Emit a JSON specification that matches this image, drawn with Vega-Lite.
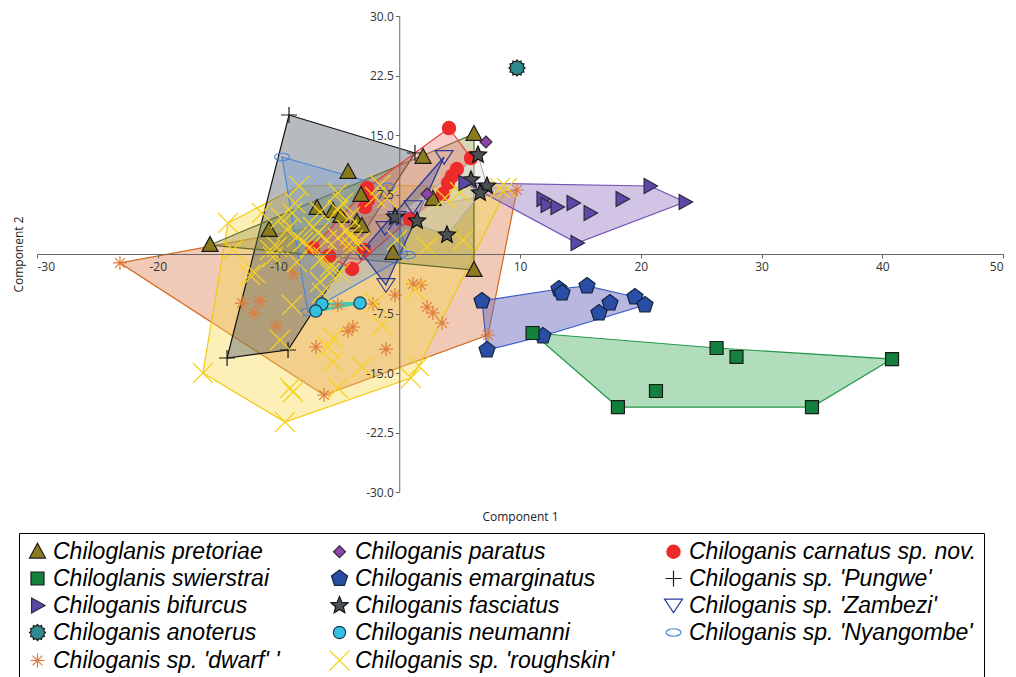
{
  "$schema": "https://vega.github.io/schema/vega-lite/v6.json",
  "width": 966,
  "height": 476,
  "autosize": {"type": "none"},
  "padding": {"left": 37, "top": 16, "right": 13, "bottom": 185},
  "background": "white",
  "config": {"view": {"stroke": null}},
  "datasets": {
    "hulls": [
      {"hull": "dwarf", "k": 1, "x": -23.13, "y": -1.13},
      {"hull": "dwarf", "k": 2, "x": 9.75, "y": 8.07},
      {"hull": "dwarf", "k": 3, "x": 7.35, "y": -10.21},
      {"hull": "dwarf", "k": 4, "x": -6.23, "y": -17.77},
      {"hull": "roughskin", "k": 1, "x": -14.18, "y": 3.91},
      {"hull": "roughskin", "k": 2, "x": -8.30, "y": 8.57},
      {"hull": "roughskin", "k": 3, "x": -1.59, "y": 8.70},
      {"hull": "roughskin", "k": 4, "x": 8.92, "y": 8.32},
      {"hull": "roughskin", "k": 5, "x": 1.63, "y": -14.12},
      {"hull": "roughskin", "k": 6, "x": 0.97, "y": -15.63},
      {"hull": "roughskin", "k": 7, "x": -9.46, "y": -21.18},
      {"hull": "roughskin", "k": 8, "x": -16.26, "y": -15.00},
      {"hull": "pungwe", "k": 1, "x": -9.13, "y": 17.52},
      {"hull": "pungwe", "k": 2, "x": 1.30, "y": 12.73},
      {"hull": "pungwe", "k": 3, "x": -9.21, "y": -12.10},
      {"hull": "pungwe", "k": 4, "x": -14.26, "y": -13.11},
      {"hull": "pretoriae", "k": 1, "x": -15.67, "y": 1.13},
      {"hull": "pretoriae", "k": 2, "x": 6.19, "y": 15.13},
      {"hull": "pretoriae", "k": 3, "x": 6.19, "y": -2.02},
      {"hull": "nyangombe", "k": 1, "x": -9.71, "y": 12.23},
      {"hull": "nyangombe", "k": 2, "x": -1.01, "y": 8.45},
      {"hull": "nyangombe", "k": 3, "x": 0.72, "y": -0.13},
      {"hull": "nyangombe", "k": 4, "x": -7.56, "y": -7.31},
      {"hull": "carnatus", "k": 1, "x": 4.12, "y": 15.88},
      {"hull": "carnatus", "k": 2, "x": 5.94, "y": 12.10},
      {"hull": "carnatus", "k": 3, "x": 3.62, "y": 7.56},
      {"hull": "carnatus", "k": 4, "x": 0.89, "y": 4.41},
      {"hull": "carnatus", "k": 5, "x": -3.91, "y": -1.89},
      {"hull": "carnatus", "k": 6, "x": -7.15, "y": 0.76},
      {"hull": "carnatus", "k": 7, "x": -2.67, "y": 8.32},
      {"hull": "zambezi", "k": 1, "x": 3.71, "y": 12.23},
      {"hull": "zambezi", "k": 2, "x": -1.10, "y": -3.91},
      {"hull": "zambezi", "k": 3, "x": -3.17, "y": 0.25},
      {"hull": "fasciatus", "k": 1, "x": 6.52, "y": 12.48},
      {"hull": "fasciatus", "k": 2, "x": 7.27, "y": 8.57},
      {"hull": "fasciatus", "k": 3, "x": 3.95, "y": 2.40},
      {"hull": "fasciatus", "k": 4, "x": -0.35, "y": 4.66},
      {"hull": "bifurcus", "k": 1, "x": 5.44, "y": 8.95},
      {"hull": "bifurcus", "k": 2, "x": 20.77, "y": 8.57},
      {"hull": "bifurcus", "k": 3, "x": 23.67, "y": 6.55},
      {"hull": "bifurcus", "k": 4, "x": 14.72, "y": 1.39},
      {"hull": "emarginatus", "k": 1, "x": 6.85, "y": -5.92},
      {"hull": "emarginatus", "k": 2, "x": 13.23, "y": -4.41},
      {"hull": "emarginatus", "k": 3, "x": 15.55, "y": -4.03},
      {"hull": "emarginatus", "k": 4, "x": 19.52, "y": -5.42},
      {"hull": "emarginatus", "k": 5, "x": 20.35, "y": -6.43},
      {"hull": "emarginatus", "k": 6, "x": 11.90, "y": -10.34},
      {"hull": "emarginatus", "k": 7, "x": 7.27, "y": -12.10},
      {"hull": "swierstrai", "k": 1, "x": 11.04, "y": -9.96},
      {"hull": "swierstrai", "k": 2, "x": 26.28, "y": -11.85},
      {"hull": "swierstrai", "k": 3, "x": 40.81, "y": -13.24},
      {"hull": "swierstrai", "k": 4, "x": 34.18, "y": -19.29},
      {"hull": "swierstrai", "k": 5, "x": 18.11, "y": -19.29},
      {"hull": "neumanni", "k": 1, "x": -6.91, "y": -7.19},
      {"hull": "neumanni", "k": 2, "x": -6.40, "y": -6.30},
      {"hull": "neumanni", "k": 3, "x": -3.25, "y": -6.18}
    ],
    "points": [
      {"species": "Chiloganis sp. 'dwarf' '", "x": -23.13, "y": -1.13},
      {"species": "Chiloganis sp. 'dwarf' '", "x": -13.02, "y": -6.18},
      {"species": "Chiloganis sp. 'dwarf' '", "x": -11.53, "y": -5.92},
      {"species": "Chiloganis sp. 'dwarf' '", "x": -12.03, "y": -7.44},
      {"species": "Chiloganis sp. 'dwarf' '", "x": -10.21, "y": -9.08},
      {"species": "Chiloganis sp. 'dwarf' '", "x": -8.80, "y": -2.52},
      {"species": "Chiloganis sp. 'dwarf' '", "x": -6.90, "y": -11.72},
      {"species": "Chiloganis sp. 'dwarf' '", "x": -6.23, "y": -17.77},
      {"species": "Chiloganis sp. 'dwarf' '", "x": -5.09, "y": -6.43},
      {"species": "Chiloganis sp. 'dwarf' '", "x": -3.84, "y": -9.20},
      {"species": "Chiloganis sp. 'dwarf' '", "x": -4.26, "y": -9.71},
      {"species": "Chiloganis sp. 'dwarf' '", "x": -1.10, "y": -11.98},
      {"species": "Chiloganis sp. 'dwarf' '", "x": -2.17, "y": -6.30},
      {"species": "Chiloganis sp. 'dwarf' '", "x": -0.35, "y": -5.17},
      {"species": "Chiloganis sp. 'dwarf' '", "x": 1.14, "y": -3.78},
      {"species": "Chiloganis sp. 'dwarf' '", "x": 1.80, "y": -3.91},
      {"species": "Chiloganis sp. 'dwarf' '", "x": 2.30, "y": -6.68},
      {"species": "Chiloganis sp. 'dwarf' '", "x": 2.79, "y": -7.44},
      {"species": "Chiloganis sp. 'dwarf' '", "x": 3.54, "y": -8.70},
      {"species": "Chiloganis sp. 'dwarf' '", "x": 7.35, "y": -10.21},
      {"species": "Chiloganis sp. 'dwarf' '", "x": 9.75, "y": 8.07},
      {"species": "Chiloganis sp. 'dwarf' '", "x": -4.41, "y": 0.88},
      {"species": "Chiloganis sp. 'Pungwe'", "x": -9.13, "y": 17.52},
      {"species": "Chiloganis sp. 'Pungwe'", "x": 1.30, "y": 12.73},
      {"species": "Chiloganis sp. 'Pungwe'", "x": -14.26, "y": -13.11},
      {"species": "Chiloganis sp. 'Pungwe'", "x": -9.21, "y": -12.10},
      {"species": "Chiloganis sp. 'Nyangombe'", "x": -9.71, "y": 12.23},
      {"species": "Chiloganis sp. 'Nyangombe'", "x": -1.01, "y": 8.45},
      {"species": "Chiloganis sp. 'Nyangombe'", "x": 0.72, "y": -0.13},
      {"species": "Chiloganis sp. 'Nyangombe'", "x": -7.56, "y": -7.31},
      {"species": "Chiloganis carnatus sp. nov.", "x": 4.12, "y": 15.88},
      {"species": "Chiloganis carnatus sp. nov.", "x": 5.94, "y": 12.10},
      {"species": "Chiloganis carnatus sp. nov.", "x": 4.77, "y": 10.71},
      {"species": "Chiloganis carnatus sp. nov.", "x": 4.36, "y": 9.83},
      {"species": "Chiloganis carnatus sp. nov.", "x": 4.04, "y": 8.95},
      {"species": "Chiloganis carnatus sp. nov.", "x": 3.62, "y": 7.56},
      {"species": "Chiloganis carnatus sp. nov.", "x": 0.89, "y": 4.41},
      {"species": "Chiloganis carnatus sp. nov.", "x": -2.67, "y": 8.32},
      {"species": "Chiloganis carnatus sp. nov.", "x": -2.59, "y": 6.81},
      {"species": "Chiloganis carnatus sp. nov.", "x": -2.84, "y": 5.92},
      {"species": "Chiloganis carnatus sp. nov.", "x": -7.15, "y": 0.76},
      {"species": "Chiloganis carnatus sp. nov.", "x": -5.82, "y": -0.25},
      {"species": "Chiloganis carnatus sp. nov.", "x": -3.91, "y": -1.89},
      {"species": "Chiloganis carnatus sp. nov.", "x": -2.92, "y": 0.50},
      {"species": "Chiloglanis pretoriae", "x": -15.67, "y": 1.13},
      {"species": "Chiloglanis pretoriae", "x": -10.78, "y": 3.03},
      {"species": "Chiloglanis pretoriae", "x": -6.81, "y": 5.80},
      {"species": "Chiloglanis pretoriae", "x": -5.49, "y": 5.42},
      {"species": "Chiloglanis pretoriae", "x": -4.83, "y": 4.79},
      {"species": "Chiloglanis pretoriae", "x": -3.50, "y": 4.03},
      {"species": "Chiloglanis pretoriae", "x": -3.09, "y": 3.53},
      {"species": "Chiloglanis pretoriae", "x": -4.24, "y": 10.34},
      {"species": "Chiloglanis pretoriae", "x": -3.17, "y": 7.44},
      {"species": "Chiloglanis pretoriae", "x": 1.97, "y": 12.23},
      {"species": "Chiloglanis pretoriae", "x": 6.19, "y": 15.13},
      {"species": "Chiloglanis pretoriae", "x": 2.79, "y": 6.93},
      {"species": "Chiloglanis pretoriae", "x": -0.52, "y": 0.13},
      {"species": "Chiloglanis pretoriae", "x": 6.19, "y": -2.02},
      {"species": "Chiloganis sp. 'Zambezi'", "x": 3.71, "y": 12.23},
      {"species": "Chiloganis sp. 'Zambezi'", "x": 1.14, "y": 5.92},
      {"species": "Chiloganis sp. 'Zambezi'", "x": -0.19, "y": 4.54},
      {"species": "Chiloganis sp. 'Zambezi'", "x": -1.18, "y": 3.28},
      {"species": "Chiloganis sp. 'Zambezi'", "x": -3.17, "y": 0.25},
      {"species": "Chiloganis sp. 'Zambezi'", "x": -1.10, "y": -3.91},
      {"species": "Chiloganis sp. 'roughskin'", "x": -14.18, "y": 3.91},
      {"species": "Chiloganis sp. 'roughskin'", "x": -13.78, "y": 0.50},
      {"species": "Chiloganis sp. 'roughskin'", "x": -11.95, "y": -2.40},
      {"species": "Chiloganis sp. 'roughskin'", "x": -12.36, "y": -2.65},
      {"species": "Chiloganis sp. 'roughskin'", "x": -10.70, "y": 0.50},
      {"species": "Chiloganis sp. 'roughskin'", "x": -10.13, "y": 0.88},
      {"species": "Chiloganis sp. 'roughskin'", "x": -10.46, "y": -0.38},
      {"species": "Chiloganis sp. 'roughskin'", "x": -9.79, "y": 4.54},
      {"species": "Chiloganis sp. 'roughskin'", "x": -9.30, "y": 3.03},
      {"species": "Chiloganis sp. 'roughskin'", "x": -8.88, "y": 5.17},
      {"species": "Chiloganis sp. 'roughskin'", "x": -8.63, "y": 6.43},
      {"species": "Chiloganis sp. 'roughskin'", "x": -8.30, "y": 8.57},
      {"species": "Chiloganis sp. 'roughskin'", "x": -8.47, "y": 2.14},
      {"species": "Chiloganis sp. 'roughskin'", "x": -7.97, "y": 1.51},
      {"species": "Chiloganis sp. 'roughskin'", "x": -7.39, "y": 0.88},
      {"species": "Chiloganis sp. 'roughskin'", "x": -7.14, "y": 3.40},
      {"species": "Chiloganis sp. 'roughskin'", "x": -6.56, "y": 5.29},
      {"species": "Chiloganis sp. 'roughskin'", "x": -6.73, "y": 2.65},
      {"species": "Chiloganis sp. 'roughskin'", "x": -5.99, "y": 1.76},
      {"species": "Chiloganis sp. 'roughskin'", "x": -11.37, "y": 5.17},
      {"species": "Chiloganis sp. 'roughskin'", "x": -5.08, "y": 7.69},
      {"species": "Chiloganis sp. 'roughskin'", "x": -4.66, "y": 6.43},
      {"species": "Chiloganis sp. 'roughskin'", "x": -5.08, "y": 5.55},
      {"species": "Chiloganis sp. 'roughskin'", "x": -4.08, "y": 4.66},
      {"species": "Chiloganis sp. 'roughskin'", "x": -4.33, "y": 3.03},
      {"species": "Chiloganis sp. 'roughskin'", "x": -5.08, "y": 2.02},
      {"species": "Chiloganis sp. 'roughskin'", "x": -3.91, "y": 0.88},
      {"species": "Chiloganis sp. 'roughskin'", "x": -4.08, "y": 2.40},
      {"species": "Chiloganis sp. 'roughskin'", "x": -3.25, "y": 1.51},
      {"species": "Chiloganis sp. 'roughskin'", "x": -8.47, "y": -1.01},
      {"species": "Chiloganis sp. 'roughskin'", "x": -6.31, "y": -0.38},
      {"species": "Chiloganis sp. 'roughskin'", "x": -5.74, "y": -1.64},
      {"species": "Chiloganis sp. 'roughskin'", "x": -6.56, "y": -0.76},
      {"species": "Chiloganis sp. 'roughskin'", "x": -4.91, "y": -2.40},
      {"species": "Chiloganis sp. 'roughskin'", "x": -1.59, "y": 8.70},
      {"species": "Chiloganis sp. 'roughskin'", "x": -1.01, "y": 7.06},
      {"species": "Chiloganis sp. 'roughskin'", "x": -2.01, "y": 7.19},
      {"species": "Chiloganis sp. 'roughskin'", "x": -3.83, "y": 1.76},
      {"species": "Chiloganis sp. 'roughskin'", "x": -0.19, "y": 1.76},
      {"species": "Chiloganis sp. 'roughskin'", "x": 2.30, "y": 0.88},
      {"species": "Chiloganis sp. 'roughskin'", "x": 5.28, "y": 1.76},
      {"species": "Chiloganis sp. 'roughskin'", "x": 3.79, "y": 7.06},
      {"species": "Chiloganis sp. 'roughskin'", "x": 5.03, "y": 7.82},
      {"species": "Chiloganis sp. 'roughskin'", "x": 8.34, "y": 8.32},
      {"species": "Chiloganis sp. 'roughskin'", "x": 8.92, "y": 8.32},
      {"species": "Chiloganis sp. 'roughskin'", "x": -8.88, "y": -6.43},
      {"species": "Chiloganis sp. 'roughskin'", "x": -9.87, "y": -10.84},
      {"species": "Chiloganis sp. 'roughskin'", "x": -6.56, "y": -3.53},
      {"species": "Chiloganis sp. 'roughskin'", "x": -6.40, "y": -4.92},
      {"species": "Chiloganis sp. 'roughskin'", "x": -5.74, "y": -2.40},
      {"species": "Chiloganis sp. 'roughskin'", "x": -5.49, "y": -10.59},
      {"species": "Chiloganis sp. 'roughskin'", "x": -5.90, "y": -11.72},
      {"species": "Chiloganis sp. 'roughskin'", "x": -5.49, "y": -13.61},
      {"species": "Chiloganis sp. 'roughskin'", "x": -3.09, "y": -14.24},
      {"species": "Chiloganis sp. 'roughskin'", "x": -2.01, "y": -6.18},
      {"species": "Chiloganis sp. 'roughskin'", "x": -1.43, "y": -8.95},
      {"species": "Chiloganis sp. 'roughskin'", "x": 1.30, "y": -4.54},
      {"species": "Chiloganis sp. 'roughskin'", "x": 0.97, "y": -15.63},
      {"species": "Chiloganis sp. 'roughskin'", "x": 1.63, "y": -14.12},
      {"species": "Chiloganis sp. 'roughskin'", "x": -5.08, "y": -16.89},
      {"species": "Chiloganis sp. 'roughskin'", "x": -8.80, "y": -17.40},
      {"species": "Chiloganis sp. 'roughskin'", "x": -9.05, "y": -16.89},
      {"species": "Chiloganis sp. 'roughskin'", "x": -9.46, "y": -21.18},
      {"species": "Chiloganis sp. 'roughskin'", "x": -16.26, "y": -15.00},
      {"species": "Chiloganis fasciatus", "x": 6.52, "y": 12.48},
      {"species": "Chiloganis fasciatus", "x": 5.94, "y": 9.33},
      {"species": "Chiloganis fasciatus", "x": 7.27, "y": 8.57},
      {"species": "Chiloganis fasciatus", "x": 6.69, "y": 7.69},
      {"species": "Chiloganis fasciatus", "x": 3.95, "y": 2.40},
      {"species": "Chiloganis fasciatus", "x": 1.47, "y": 4.16},
      {"species": "Chiloganis fasciatus", "x": -0.35, "y": 4.66},
      {"species": "Chiloganis paratus", "x": 7.18, "y": 14.12},
      {"species": "Chiloganis paratus", "x": 2.30, "y": 7.56},
      {"species": "Chiloganis bifurcus", "x": 5.44, "y": 8.95},
      {"species": "Chiloganis bifurcus", "x": 11.90, "y": 6.93},
      {"species": "Chiloganis bifurcus", "x": 12.24, "y": 6.18},
      {"species": "Chiloganis bifurcus", "x": 13.06, "y": 5.92},
      {"species": "Chiloganis bifurcus", "x": 14.39, "y": 6.43},
      {"species": "Chiloganis bifurcus", "x": 15.80, "y": 5.17},
      {"species": "Chiloganis bifurcus", "x": 18.45, "y": 6.93},
      {"species": "Chiloganis bifurcus", "x": 20.77, "y": 8.57},
      {"species": "Chiloganis bifurcus", "x": 23.67, "y": 6.55},
      {"species": "Chiloganis bifurcus", "x": 14.72, "y": 1.39},
      {"species": "Chiloganis emarginatus", "x": 6.85, "y": -5.92},
      {"species": "Chiloganis emarginatus", "x": 7.27, "y": -12.10},
      {"species": "Chiloganis emarginatus", "x": 11.90, "y": -10.34},
      {"species": "Chiloganis emarginatus", "x": 13.23, "y": -4.41},
      {"species": "Chiloganis emarginatus", "x": 13.48, "y": -4.92},
      {"species": "Chiloganis emarginatus", "x": 15.55, "y": -4.03},
      {"species": "Chiloganis emarginatus", "x": 17.45, "y": -6.18},
      {"species": "Chiloganis emarginatus", "x": 16.54, "y": -7.44},
      {"species": "Chiloganis emarginatus", "x": 19.52, "y": -5.42},
      {"species": "Chiloganis emarginatus", "x": 20.35, "y": -6.43},
      {"species": "Chiloglanis swierstrai", "x": 11.04, "y": -9.96},
      {"species": "Chiloglanis swierstrai", "x": 26.28, "y": -11.85},
      {"species": "Chiloglanis swierstrai", "x": 27.93, "y": -12.98},
      {"species": "Chiloglanis swierstrai", "x": 21.26, "y": -17.27},
      {"species": "Chiloglanis swierstrai", "x": 18.11, "y": -19.29},
      {"species": "Chiloglanis swierstrai", "x": 34.18, "y": -19.29},
      {"species": "Chiloglanis swierstrai", "x": 40.81, "y": -13.24},
      {"species": "Chiloganis neumanni", "x": -6.40, "y": -6.30},
      {"species": "Chiloganis neumanni", "x": -6.91, "y": -7.19},
      {"species": "Chiloganis neumanni", "x": -3.25, "y": -6.18},
      {"species": "Chiloganis anoterus", "x": 9.75, "y": 23.45}
    ]
  },
  "encoding": {
    "x": {
      "field": "x", "type": "quantitative",
      "scale": {"domain": [-30, 50], "nice": false, "zero": false},
      "axis": {
        "values": [-30, -20, -10, 0, 10, 20, 30, 40, 50],
        "labelExpr": "datum.value == 0 ? '' : replace(datum.label, '\u2212', '-')",
        "format": "d",
        "offset": -238,
        "grid": false,
        "title": "Component 1",
        "titleX": 483, "titleY": 262, "titleBaseline": "middle",
        "titleFont": "Open Sans", "titleFontSize": 12, "titleFontWeight": "normal", "titleColor": "#222",
        "labelFont": "Open Sans", "labelFontSize": 12, "labelColor": "#333", "labelPadding": 3,
        "tickSize": 4, "tickColor": "#666", "domainColor": "#666", "zindex": 1
      }
    },
    "y": {
      "field": "y", "type": "quantitative",
      "scale": {"domain": [-30, 30], "nice": false, "zero": false},
      "axis": {
        "values": [-30, -22.5, -15, -7.5, 0, 7.5, 15, 22.5, 30],
        "format": ".1f",
        "labelExpr": "datum.value == 0 ? '' : replace(datum.label, '\u2212', '-')",
        "offset": -362.25,
        "grid": false,
        "title": "Component 2",
        "titleX": -381, "titleY": 238, "titleAngle": -90, "titleBaseline": "middle",
        "titleFont": "Open Sans", "titleFontSize": 12, "titleFontWeight": "normal", "titleColor": "#222",
        "labelFont": "Open Sans", "labelFontSize": 12, "labelColor": "#333", "labelPadding": 2,
        "tickSize": 4, "tickColor": "#666", "domainColor": "#666", "zindex": 1
      }
    }
  },
  "layer": [
    {"data": {"name": "hulls"}, "transform": [{"filter": "datum.hull == 'dwarf'"}],
     "mark": {"type": "line", "interpolate": "linear-closed", "fill": "#E08A60", "fillOpacity": 0.45, "stroke": "#D2691E", "strokeWidth": 1.2},
     "encoding": {"order": {"field": "k"}}},
    {"data": {"name": "hulls"}, "transform": [{"filter": "datum.hull == 'roughskin'"}],
     "mark": {"type": "line", "interpolate": "linear-closed", "fill": "#F7D84A", "fillOpacity": 0.4, "stroke": "#F2C80F", "strokeWidth": 1.2},
     "encoding": {"order": {"field": "k"}}},
    {"data": {"name": "hulls"}, "transform": [{"filter": "datum.hull == 'pungwe'"}],
     "mark": {"type": "line", "interpolate": "linear-closed", "fill": "#4A5560", "fillOpacity": 0.4, "stroke": "#111111", "strokeWidth": 1.2},
     "encoding": {"order": {"field": "k"}}},
    {"data": {"name": "hulls"}, "transform": [{"filter": "datum.hull == 'pretoriae'"}],
     "mark": {"type": "line", "interpolate": "linear-closed", "fill": "#8B8B3A", "fillOpacity": 0.35, "stroke": "#5F6B2A", "strokeWidth": 1.2},
     "encoding": {"order": {"field": "k"}}},
    {"data": {"name": "hulls"}, "transform": [{"filter": "datum.hull == 'nyangombe'"}],
     "mark": {"type": "line", "interpolate": "linear-closed", "fill": "#6B9BE0", "fillOpacity": 0.3, "stroke": "#4F86D6", "strokeWidth": 1.2},
     "encoding": {"order": {"field": "k"}}},
    {"data": {"name": "hulls"}, "transform": [{"filter": "datum.hull == 'carnatus'"}],
     "mark": {"type": "line", "interpolate": "linear-closed", "fill": "#F07070", "fillOpacity": 0.35, "stroke": "#E83A3A", "strokeWidth": 1.2},
     "encoding": {"order": {"field": "k"}}},
    {"data": {"name": "hulls"}, "transform": [{"filter": "datum.hull == 'zambezi'"}],
     "mark": {"type": "line", "interpolate": "linear-closed", "fill": "#4A5AA8", "fillOpacity": 0.35, "stroke": "#2B3A96", "strokeWidth": 1.3},
     "encoding": {"order": {"field": "k"}}},
    {"data": {"name": "hulls"}, "transform": [{"filter": "datum.hull == 'fasciatus'"}],
     "mark": {"type": "line", "interpolate": "linear-closed", "fill": "#E0E0E0", "fillOpacity": 0.4, "stroke": "#A8A8A8", "strokeWidth": 1},
     "encoding": {"order": {"field": "k"}}},
    {"data": {"name": "hulls"}, "transform": [{"filter": "datum.hull == 'bifurcus'"}],
     "mark": {"type": "line", "interpolate": "linear-closed", "fill": "#9B7CC4", "fillOpacity": 0.45, "stroke": "#7552B5", "strokeWidth": 1.2},
     "encoding": {"order": {"field": "k"}}},
    {"data": {"name": "hulls"}, "transform": [{"filter": "datum.hull == 'emarginatus'"}],
     "mark": {"type": "line", "interpolate": "linear-closed", "fill": "#7070C0", "fillOpacity": 0.5, "stroke": "#3C5CC8", "strokeWidth": 1.2},
     "encoding": {"order": {"field": "k"}}},
    {"data": {"name": "hulls"}, "transform": [{"filter": "datum.hull == 'swierstrai'"}],
     "mark": {"type": "line", "interpolate": "linear-closed", "fill": "#66BB7A", "fillOpacity": 0.5, "stroke": "#22994A", "strokeWidth": 1.2},
     "encoding": {"order": {"field": "k"}}},
    {"data": {"name": "hulls"}, "transform": [{"filter": "datum.hull == 'neumanni'"}],
     "mark": {"type": "line", "interpolate": "linear-closed", "fill": "#40C8B0", "fillOpacity": 0.3, "stroke": "#40C8B0", "strokeWidth": 2.5},
     "encoding": {"order": {"field": "k"}}},
    {"data": {"name": "points"},
     "mark": {"type": "point", "filled": true, "strokeWidth": 1.2, "opacity": 1},
     "encoding": {
       "fill": {"field": "species", "type": "nominal",
         "scale": {"domain": ["Chiloglanis pretoriae", "Chiloglanis swierstrai", "Chiloganis bifurcus", "Chiloganis anoterus", "Chiloganis sp. 'dwarf' '", "Chiloganis paratus", "Chiloganis emarginatus", "Chiloganis fasciatus", "Chiloganis neumanni", "Chiloganis sp. 'roughskin'", "Chiloganis carnatus sp. nov.", "Chiloganis sp. 'Pungwe'", "Chiloganis sp. 'Zambezi'", "Chiloganis sp. 'Nyangombe'"],
           "range": ["#8C7A1E", "#13803E", "#5B48A8", "#2E8C90", "transparent", "#8E44AD", "#2A4EA6", "#4B5055", "#32C0E4", "transparent", "#EE2B2B", "transparent", "transparent", "transparent"]},
         "legend": {
           "title": null, "orient": "none", "legendX": -18, "legendY": 517,
           "columns": 3, "columnPadding": 47, "rowPadding": 3, "padding": 7,
           "gridAlign": "each",
           "labelFont": "Liberation Sans", "labelFontSize": 23, "labelFontStyle": "italic", "labelColor": "#000", "labelLimit": 400, "labelOffset": 4,
           "strokeColor": "#000", "fillColor": "#fff", "symbolStrokeWidth": 1.2,
           "encode": {
             "legend": {"update": {"strokeWidth": {"value": 3}}}
           }
         }},
       "stroke": {"field": "species", "type": "nominal",
         "scale": {"domain": ["Chiloglanis pretoriae", "Chiloglanis swierstrai", "Chiloganis bifurcus", "Chiloganis anoterus", "Chiloganis sp. 'dwarf' '", "Chiloganis paratus", "Chiloganis emarginatus", "Chiloganis fasciatus", "Chiloganis neumanni", "Chiloganis sp. 'roughskin'", "Chiloganis carnatus sp. nov.", "Chiloganis sp. 'Pungwe'", "Chiloganis sp. 'Zambezi'", "Chiloganis sp. 'Nyangombe'"],
           "range": ["#1a1a1a", "#1a1a1a", "#2a2a3a", "#1a1a1a", "#E07B39", "#3a2a3a", "#14233f", "#111111", "#1a3a4a", "#F5D21E", "transparent", "#1a1a1a", "#2B3A96", "#4F86D6"]}},
       "shape": {"field": "species", "type": "nominal",
         "scale": {"domain": ["Chiloglanis pretoriae", "Chiloglanis swierstrai", "Chiloganis bifurcus", "Chiloganis anoterus", "Chiloganis sp. 'dwarf' '", "Chiloganis paratus", "Chiloganis emarginatus", "Chiloganis fasciatus", "Chiloganis neumanni", "Chiloganis sp. 'roughskin'", "Chiloganis carnatus sp. nov.", "Chiloganis sp. 'Pungwe'", "Chiloganis sp. 'Zambezi'", "Chiloganis sp. 'Nyangombe'"],
           "range": [
             "M0,-1L0.95,0.75L-0.95,0.75Z",
             "M-0.75,-0.75L0.75,-0.75L0.75,0.75L-0.75,0.75Z",
             "M-0.75,-0.95L0.95,0L-0.75,0.95Z",
             "M1,0L0.773,0.207L0.866,0.5L0.566,0.566L0.5,0.866L0.207,0.773L0,1L-0.207,0.773L-0.5,0.866L-0.566,0.566L-0.866,0.5L-0.773,0.207L-1,0L-0.773,-0.207L-0.866,-0.5L-0.566,-0.566L-0.5,-0.866L-0.207,-0.773L0,-1L0.207,-0.773L0.5,-0.866L0.566,-0.566L0.866,-0.5L0.773,-0.207Z",
             "M-1,0L1,0M0,-1L0,1M-0.7,-0.7L0.7,0.7M-0.7,0.7L0.7,-0.7",
             "M0,-1L1,0L0,1L-1,0Z",
             "M0,-1L0.951,-0.309L0.588,0.809L-0.588,0.809L-0.951,-0.309Z",
             "M0,-1L0.265,-0.364L0.951,-0.309L0.428,0.139L0.588,0.809L0,0.45L-0.588,0.809L-0.428,0.139L-0.951,-0.309L-0.265,-0.364Z",
             "circle",
             "M-1,-1L1,1M-1,1L1,-1",
             "circle",
             "M-1,0L1,0M0,-1L0,1",
             "M-1,-0.7L1,-0.7L0,0.8Z",
             "M-1,0A1,0.5,0,1,1,1,0A1,0.5,0,1,1,-1,0Z"
           ]}},
       "size": {"field": "species", "type": "nominal",
         "scale": {"type": "ordinal", "domain": ["Chiloglanis pretoriae", "Chiloglanis swierstrai", "Chiloganis bifurcus", "Chiloganis anoterus", "Chiloganis sp. 'dwarf' '", "Chiloganis paratus", "Chiloganis emarginatus", "Chiloganis fasciatus", "Chiloganis neumanni", "Chiloganis sp. 'roughskin'", "Chiloganis carnatus sp. nov.", "Chiloganis sp. 'Pungwe'", "Chiloganis sp. 'Zambezi'", "Chiloganis sp. 'Nyangombe'"],
           "range": [285, 300, 250, 256, 196, 144, 285, 324, 150, 400, 210, 256, 324, 225]}}
     }}
  ]
}
